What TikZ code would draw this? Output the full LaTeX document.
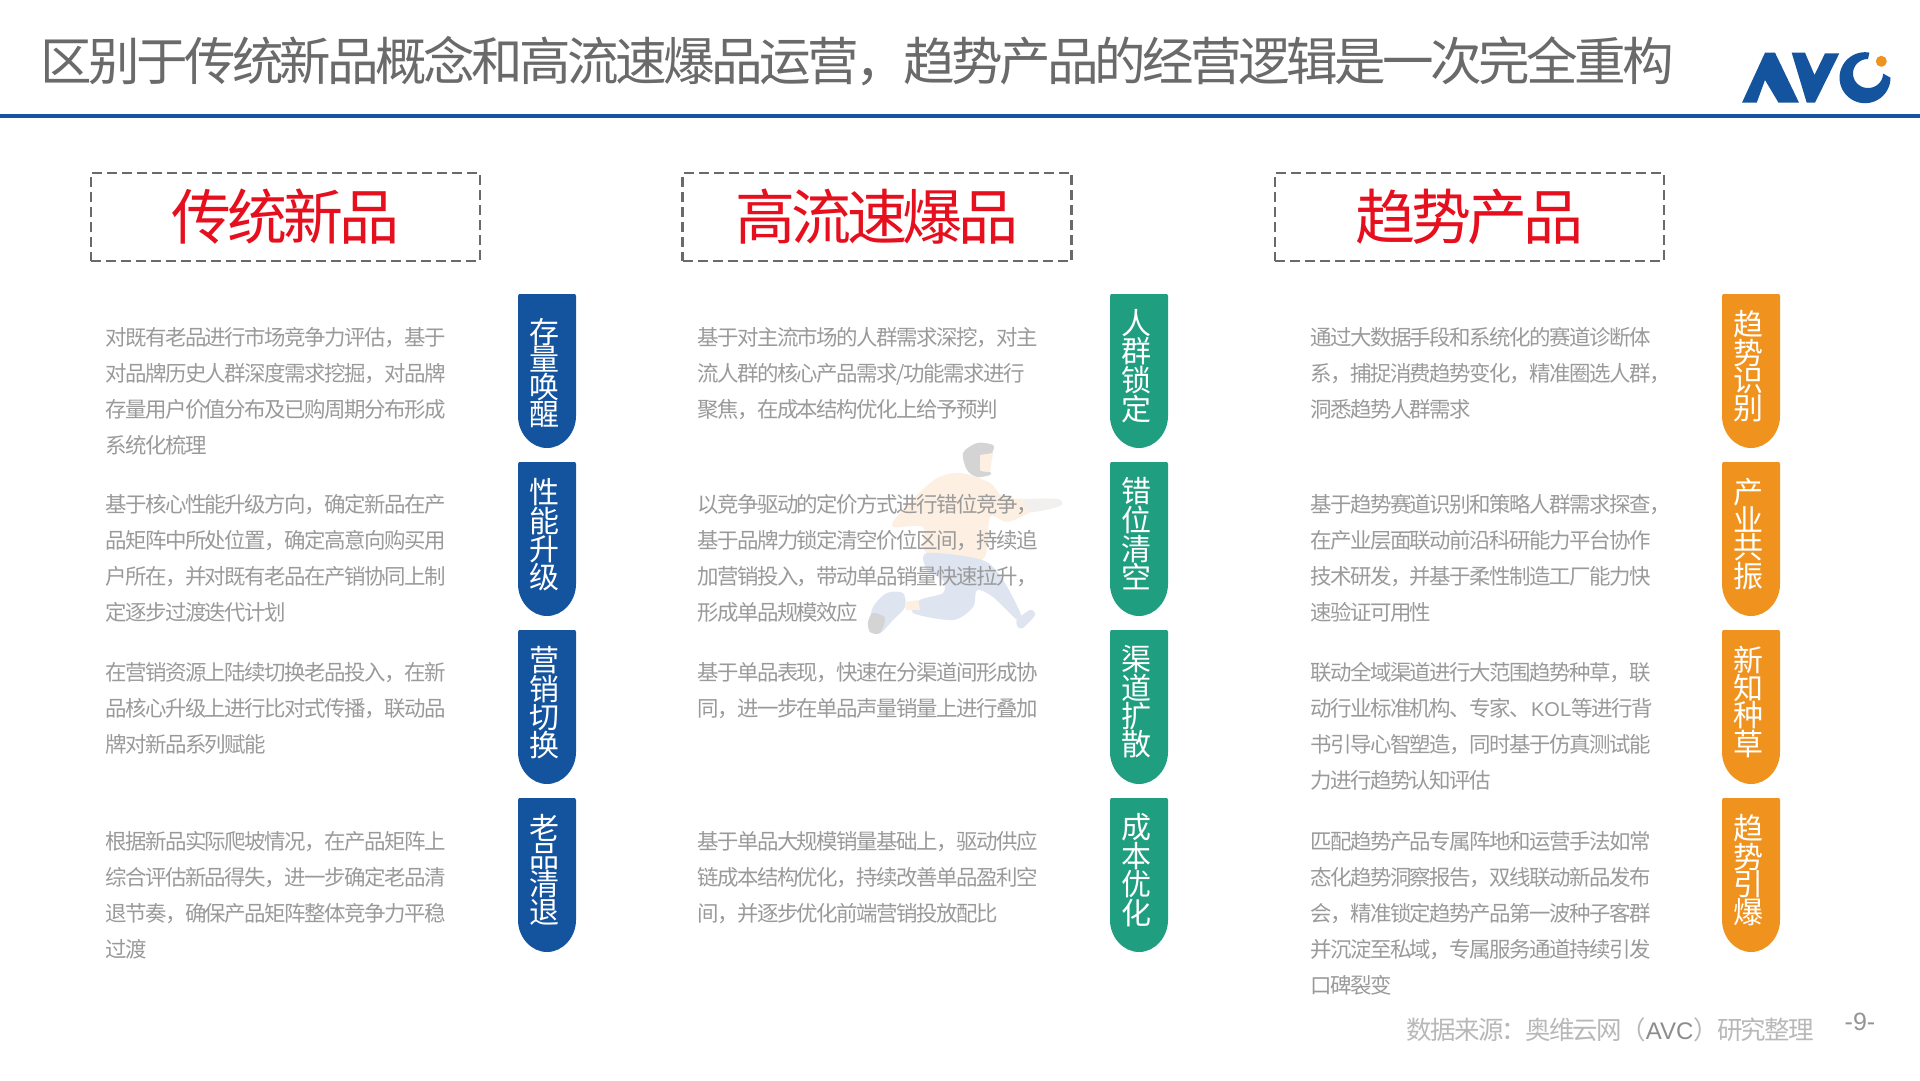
\documentclass[tikz,border=0pt]{standalone}
\usepackage{fontspec}
\setmainfont{Noto Sans CJK SC}
\newfontfamily\tightcjk[LetterSpace=-7]{Noto Sans CJK SC}
\newfontfamily\latinfont{Liberation Sans}
\definecolor{avcblue}{HTML}{14539E}
\definecolor{tealc}{HTML}{1F9E80}
\definecolor{orangec}{HTML}{F0931E}
\definecolor{redc}{HTML}{E60F1E}
\definecolor{titlec}{HTML}{6A6A6A}
\definecolor{bodyc}{HTML}{9A9A9A}
\definecolor{skinc}{HTML}{FDEFE2}
\definecolor{armc}{HTML}{F2F0EE}
\definecolor{jeanc}{HTML}{DFE4F1}
\definecolor{hairc}{HTML}{D4D4D4}
\tikzset{
  body/.style={anchor=west,align=left,inner sep=0pt,text=bodyc,font=\tightcjk\fontsize{21.45}{36}\selectfont},
  headbox/.style={draw=titlec,line width=2.6pt,dash pattern=on 10pt off 5pt,inner sep=0pt,minimum width=389pt,minimum height=88pt,text=redc,font=\tightcjk\fontsize{60}{62}\selectfont},
  pilltext/.style={align=center,inner sep=0pt,text=white,font=\fontsize{30}{27.5}\selectfont}
}
% \pillshape{left x}{top y}{colour}
\newcommand{\pillshape}[3]{%
  \fill[#3] (#1+1,#2) -- (#1+57,#2) -- (#1+58,#2+2) -- (#1+58,#2+122)
    .. controls (#1+58,#2+139) and (#1+45,#2+154) .. (#1+29,#2+154)
    .. controls (#1+13,#2+154) and (#1,#2+139) .. (#1,#2+122) -- (#1,#2+2) -- cycle;}
\begin{document}
\begin{tikzpicture}[x=1pt,y=-1pt]
\useasboundingbox (0,0) rectangle (1920,1080);
\fill[white] (0,0) rectangle (1920,1080);
% title
\node[anchor=west,inner sep=0pt,text=titlec,font=\tightcjk\fontsize{51.55}{54}\selectfont] (title) at (40,61) {区别于传统新品概念和高流速爆品运营，趋势产品的经营逻辑是一次完全重构};
\coordinate (ruleL) at (0,116);
\coordinate (ruleR) at (1920,116);
\draw[avcblue,line width=4.5pt] (ruleL) -- (ruleR);
% logo
\fill[avcblue] (1742,102.7) -- (1765,52.7) -- (1775,52.7) -- (1799,102.7) -- (1778.5,102.7) -- (1765,80) -- (1756.7,102.7) -- cycle;
\fill[avcblue] (1791.7,52.7) -- (1805,52.7) -- (1814.5,75) -- (1825,53.3) -- (1839.3,53.3) -- (1815,102.7) -- (1806.7,102.7) -- cycle;
\fill[avcblue] plot[domain=80:360,samples=50] ({1865+25.5*cos(\x)},{77.7-25.5*sin(\x)})
  -- plot[domain=0:90,samples=20] ({1868+15*cos(\x)},{73.5+14.5*sin(\x)})
  -- plot[domain=90:270,samples=30] ({1868+15*cos(\x)},{73.5+14.5*sin(\x)})
  -- cycle;
\fill[orangec] (1881.3,61.3) circle[radius=5.5];
% figure (faded runner)
\fill[skinc] plot[smooth cycle,tension=.5] coordinates {(934,480)(960,473)(990,483)(1003,497)(1030,500)(1030,512)(1007,522)(990,517)(982,560)(927,553)(923,527)(893,527)(900,513)};
\fill[armc] plot[smooth cycle,tension=.5] coordinates {(1025,500)(1058,499)(1060,506)(1030,512)};
\fill[jeanc] plot[smooth cycle,tension=.5] coordinates {(927,553)(982,560)(1003,580)(1022,617)(1017,620)(993,597)(977,590)(973,607)(953,620)(913,613)(920,600)(943,593)(943,580)(927,570)};
\fill[jeanc] plot[smooth cycle,tension=.5] coordinates {(887,593)(903,593)(905,607)(893,620)(880,633)(870,627)(873,607)};
\fill[hairc] plot[smooth cycle,tension=.5] coordinates {(873,613)(885,618)(880,633)(870,632)(868,622)};
\fill[jeanc] plot[smooth cycle,tension=.5] coordinates {(1017,620)(1030,610)(1035,615)(1023,628)(1018,627)};
\fill[skinc!80!orange!40] (905,602) -- (918,600) -- (920,610) -- (906,610) -- cycle;
\fill[hairc] plot[smooth cycle,tension=.5] coordinates {(963,453)(977,443)(993,445)(992,453)(985,457)(980,470)(990,472)(990,475)(977,477)(967,470)};
\fill[skinc] (980,455) -- (993,453) -- (990,472) -- (980,470) -- cycle;
% header boxes
\node[headbox] (h1) at (285.5,217) {传统新品};
\node[headbox] (h2) at (877,217) {高流速爆品};
\node[headbox] (h3) at (1469.5,217) {趋势产品};
% column 1
\node[body] (a1) at (105,337.3+54) {对既有老品进行市场竞争力评估，基于\\对品牌历史人群深度需求挖掘，对品牌\\存量用户价值分布及已购周期分布形成\\系统化梳理};
\node[body] (a2) at (105,504.3+54) {基于核心性能升级方向，确定新品在产\\品矩阵中所处位置，确定高意向购买用\\户所在，并对既有老品在产销协同上制\\定逐步过渡迭代计划};
\node[body] (a3) at (105,672.3+36) {在营销资源上陆续切换老品投入，在新\\品核心升级上进行比对式传播，联动品\\牌对新品系列赋能};
\node[body] (a4) at (105,841.3+54) {根据新品实际爬坡情况，在产品矩阵上\\综合评估新品得失，进一步确定老品清\\退节奏，确保产品矩阵整体竞争力平稳\\过渡};
% column 2
\node[body] (b1) at (697,337.3+36) {基于对主流市场的人群需求深挖，对主\\流人群的核心产品需求/功能需求进行\\聚焦，在成本结构优化上给予预判};
\node[body] (b2) at (697,504.3+54) {以竞争驱动的定价方式进行错位竞争，\\基于品牌力锁定清空价位区间，持续追\\加营销投入，带动单品销量快速拉升，\\形成单品规模效应};
\node[body] (b3) at (697,672.3+18) {基于单品表现，快速在分渠道间形成协\\同，进一步在单品声量销量上进行叠加};
\node[body] (b4) at (697,841.3+36) {基于单品大规模销量基础上，驱动供应\\链成本结构优化，持续改善单品盈利空\\间，并逐步优化前端营销投放配比};
% column 3
\node[body] (c1) at (1310,337.3+36) {通过大数据手段和系统化的赛道诊断体\\系，捕捉消费趋势变化，精准圈选人群，\\洞悉趋势人群需求};
\node[body] (c2) at (1310,504.3+54) {基于趋势赛道识别和策略人群需求探查，\\在产业层面联动前沿科研能力平台协作\\技术研发，并基于柔性制造工厂能力快\\速验证可用性};
\node[body] (c3) at (1310,672.3+54) {联动全域渠道进行大范围趋势种草，联\\动行业标准机构、专家、{\latinfont\fontsize{20}{36}\selectfont KOL}等进行背\\书引导心智塑造，同时基于仿真测试能\\力进行趋势认知评估};
\node[body] (c4) at (1310,841.3+72) {匹配趋势产品专属阵地和运营手法如常\\态化趋势洞察报告，双线联动新品发布\\会，精准锁定趋势产品第一波种子客群\\并沉淀至私域，专属服务通道持续引发\\口碑裂变};
% pills
\pillshape{518}{294}{avcblue}\pillshape{518}{462}{avcblue}\pillshape{518}{630}{avcblue}\pillshape{518}{798}{avcblue}
\pillshape{1110}{294}{tealc}\pillshape{1110}{462}{tealc}\pillshape{1110}{630}{tealc}\pillshape{1110}{798}{tealc}
\pillshape{1722}{294}{orangec}\pillshape{1722}{462}{orangec}\pillshape{1722}{630}{orangec}\pillshape{1722}{798}{orangec}
\node[pilltext] (p11) at (544,373) {存\\量\\唤\\醒};
\node[pilltext] (p12) at (544,535) {性\\能\\升\\级};
\node[pilltext] (p13) at (544,703) {营\\销\\切\\换};
\node[pilltext] (p14) at (544,870) {老\\品\\清\\退};
\node[pilltext] (p21) at (1136,366) {人\\群\\锁\\定};
\node[pilltext] (p22) at (1136,534) {错\\位\\清\\空};
\node[pilltext] (p23) at (1136,702) {渠\\道\\扩\\散};
\node[pilltext] (p24) at (1136,870) {成\\本\\优\\化};
\node[pilltext] (p31) at (1748,366) {趋\\势\\识\\别};
\node[pilltext] (p32) at (1748,534) {产\\业\\共\\振};
\node[pilltext] (p33) at (1748,702) {新\\知\\种\\草};
\node[pilltext] (p34) at (1748,870) {趋\\势\\引\\爆};
% footer
\node[anchor=east,inner sep=0pt,text=black!28,font=\tightcjk\fontsize{25.5}{27}\selectfont] (src) at (1814,1030) {数据来源：奥维云网（{\latinfont\color{black!45}\fontsize{24}{26}\selectfont AVC}）研究整理};
\node[anchor=center,inner sep=0pt,text=black!42,font=\latinfont\fontsize{25}{27}\selectfont] (pg) at (1860,1022) {-9-};
\end{tikzpicture}
\end{document}
